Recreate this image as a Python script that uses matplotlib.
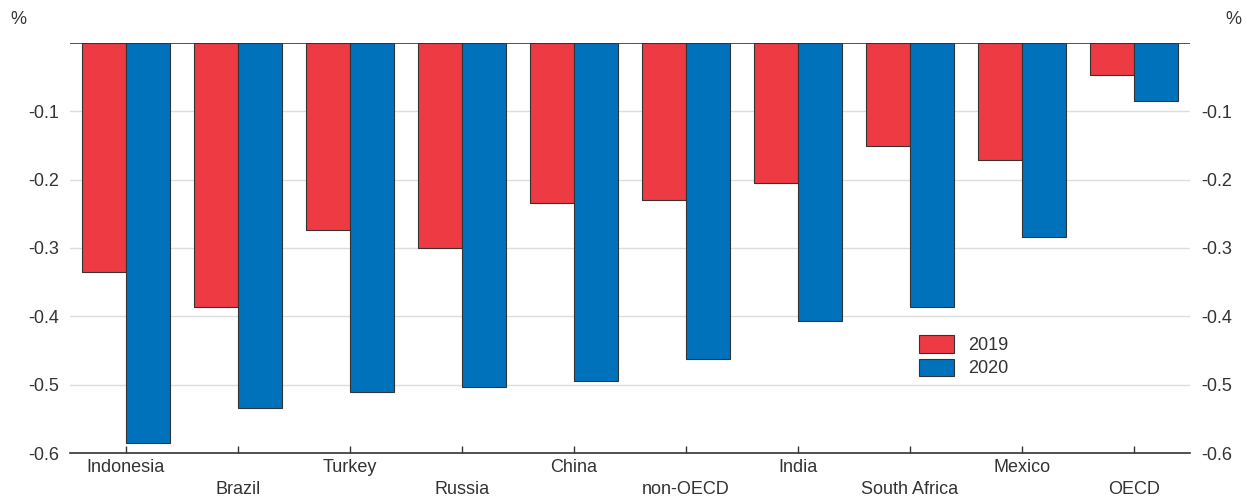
import matplotlib
matplotlib.use("Agg")
import matplotlib.pyplot as plt
import numpy as np

plt.rcParams['font.family'] = ['Liberation Sans', 'DejaVu Sans']

categories = ["Indonesia", "Brazil", "Turkey", "Russia", "China", "non-OECD",
              "India", "South Africa", "Mexico", "OECD"]
v2019 = [-0.335, -0.386, -0.274, -0.300, -0.234, -0.230, -0.205, -0.151, -0.171, -0.047]
v2020 = [-0.585, -0.534, -0.511, -0.503, -0.495, -0.462, -0.407, -0.386, -0.284, -0.085]
yticks = [-0.1, -0.2, -0.3, -0.4, -0.5, -0.6]

red = "#EE3A43"
blue = "#0072BC"
txt = "#333333"

W, H = 1251, 497
fig = plt.figure(figsize=(W/100, H/100), dpi=100)
ax = fig.add_axes([70/W, 1-453/H, 1120/W, 410/H])

x = np.arange(len(categories))
bw = 0.393
ax.bar(x - bw/2, v2019, width=bw, color=red, edgecolor="#333333", linewidth=0.8, label="2019", zorder=3)
ax.bar(x + bw/2, v2020, width=bw, color=blue, edgecolor="#333333", linewidth=0.8, label="2020", zorder=3)

ax.set_xlim(-0.5, len(categories) - 0.5)
ax.set_ylim(-0.6, 0)
ax.set_yticks(yticks)
ax.set_yticklabels([f"{t:.1f}" for t in yticks])
ax.yaxis.grid(True, color="#DDDDDD", linewidth=1, zorder=0)
ax.axhline(0, color="#333333", linewidth=1.2, zorder=4)

for s in ["left", "right", "top"]:
    ax.spines[s].set_visible(False)
ax.spines["bottom"].set_color("#333333")
ax.spines["bottom"].set_linewidth(1.2)
ax.spines["bottom"].set_zorder(4)

ax.tick_params(axis="y", which="both", length=0, labelsize=13, labelcolor=txt,
               left=True, right=True, labelleft=True, labelright=True, pad=8)
ax.set_xticks(x)
ax.set_xticklabels([])
ax.tick_params(axis="x", direction="in", length=5, color="#333333", width=1)

for i, c in enumerate(categories):
    off = 0 if i % 2 == 0 else 1
    ax.annotate(c, xy=(i, 0), xycoords=("data", "axes fraction"),
                xytext=(0, -4.5 - off * 15.5), textcoords="offset points",
                ha="center", va="top", fontsize=13, color=txt)

fig.text(10/W, 1-20/H, "%", fontsize=13, color=txt, ha="left", va="center")
fig.text(1241/W, 1-20/H, "%", fontsize=13, color=txt, ha="right", va="center")

leg = ax.legend(loc="upper left", bbox_to_anchor=((912-70)/1120, 1-(328-43)/410),
                frameon=False, fontsize=13, handlelength=1.9, handleheight=1.1,
                labelspacing=0.25, handletextpad=0.8, borderaxespad=0)
for t in leg.get_texts():
    t.set_color(txt)

fig.savefig("out.png", dpi=100)
